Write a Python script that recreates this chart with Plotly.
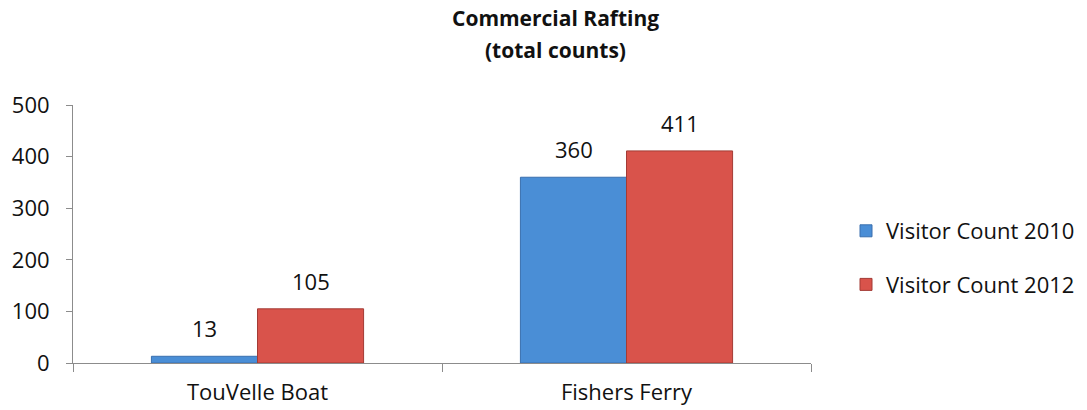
import plotly.graph_objects as go

categories = ["TouVelle Boat", "Fishers Ferry"]
series_names = ["Visitor Count 2010", "Visitor Count 2012"]
counts_2010 = [13, 360]
counts_2012 = [105, 411]
y_ticks = [0, 100, 200, 300, 400, 500]
title_lines = ["Commercial Rafting", "(total counts)"]

FONT = "'Open Sans', Lato, sans-serif"
fill_colors = ["#4a8ed6", "#d9534b"]
edge_colors = ["#3a6fae", "#a33b35"]

fig = go.Figure()
for i, (name, vals) in enumerate(zip(series_names, [counts_2010, counts_2012])):
    fig.add_trace(go.Bar(
        x=categories, y=vals, name=name,
        marker=dict(color=fill_colors[i], line=dict(color=edge_colors[i], width=1)),
        legendgroup=name,
    ))

# value labels above each bar
for i, vals in enumerate([counts_2010, counts_2012]):
    for cat, v in zip(categories, vals):
        fig.add_annotation(
            x=cat, y=v, text=str(v), showarrow=False,
            xshift=(-53 if i == 0 else 53), yshift=28,
            font=dict(family=FONT, size=22, color="#111"),
        )

# two-line bold title
for k, (line, ypix) in enumerate(zip(title_lines, [18, 50])):
    fig.add_annotation(
        xref="paper", yref="paper", x=(555 - 73) / 738, y=1 + (105 - ypix) / 258,
        text=f"<b>{line}</b>", showarrow=False, xanchor="center", yanchor="middle",
        font=dict(family=FONT, size=21, color="#111"),
    )

fig.update_layout(
    width=1087, height=410,
    margin=dict(l=73, r=276, t=105, b=47, autoexpand=False),
    paper_bgcolor="white", plot_bgcolor="white",
    barmode="group", bargap=0.425, bargroupgap=0,
    legend=dict(
        xref="container", yref="container",
        x=846 / 1087, xanchor="left", y=1 - 258 / 410, yanchor="middle",
        font=dict(family=FONT, size=22, color="#111"),
        tracegroupgap=22, itemwidth=30,
        bgcolor="rgba(0,0,0,0)",
    ),
    showlegend=True,
)
fig.update_xaxes(
    showline=True, linecolor="#8c8c8c", linewidth=1,
    ticks="outside", tickson="boundaries", ticklen=8, tickcolor="#8c8c8c",
    tickfont=dict(family=FONT, size=22, color="#111"),
    ticklabelstandoff=10, automargin=False,
    showgrid=False,
)
fig.update_yaxes(
    range=[0, 500], tickvals=y_ticks,
    showline=True, linecolor="#8c8c8c", linewidth=1,
    ticks="outside", ticklen=6, tickcolor="#8c8c8c",
    tickfont=dict(family=FONT, size=22, color="#111"),
    ticklabelstandoff=12, automargin=False,
    showgrid=False, zeroline=False,
)

fig.write_html("out.html")
